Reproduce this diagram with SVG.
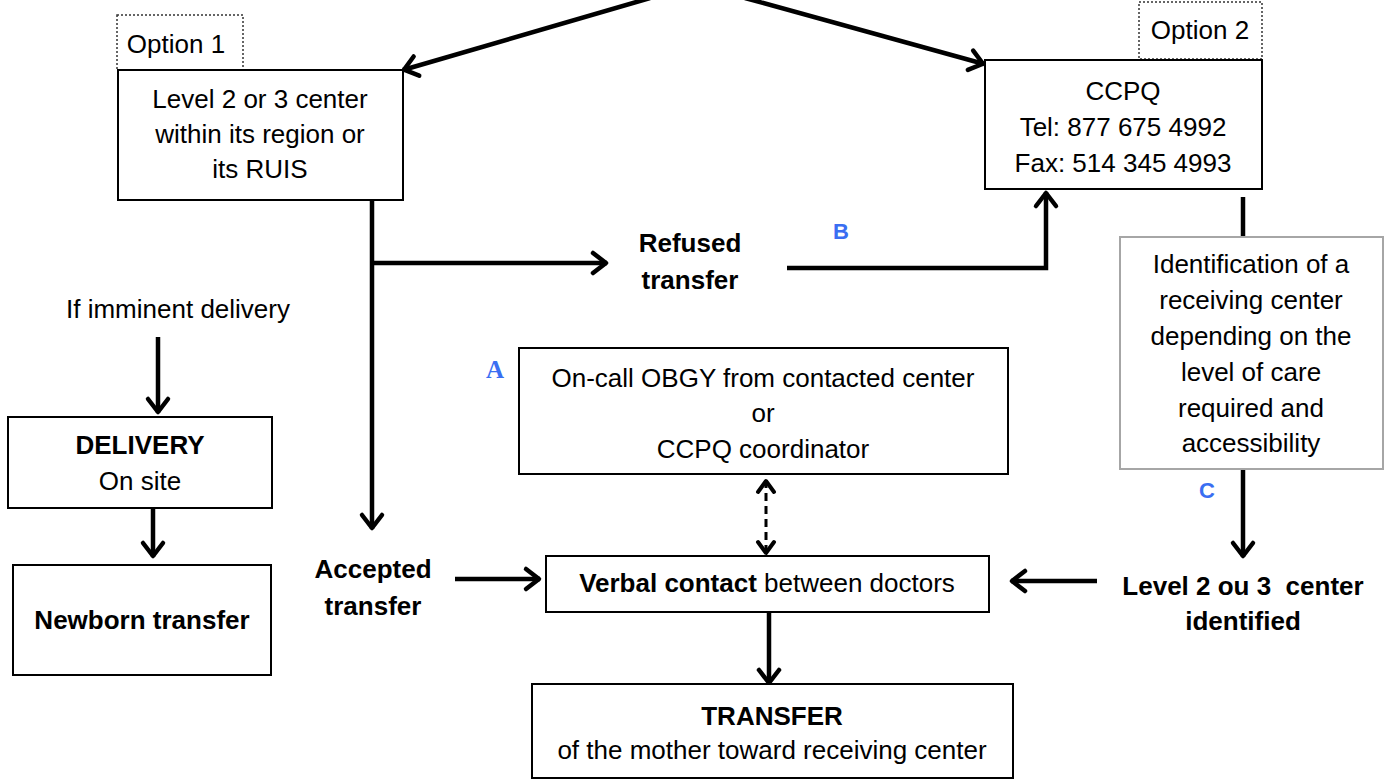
<svg xmlns="http://www.w3.org/2000/svg" width="1390" height="779" viewBox="0 0 1390 779">
<style>
text{font-family:"Liberation Sans",Arial,sans-serif;font-size:26px;fill:#000;text-anchor:middle}
.b{font-weight:bold}
.lbl{font-weight:bold;fill:#3A6EF2;font-size:22px}
.lblA{font-family:"Liberation Serif","Times New Roman",serif;font-weight:bold;fill:#3A6EF2;font-size:25px}
.box{fill:#fff;stroke:#000;stroke-width:2}
.gbox{fill:#fff;stroke:#a6a6a6;stroke-width:2}
.opt{fill:none;stroke:#333;stroke-width:1.5;stroke-dasharray:2,2}
.c{fill:none;stroke:#000;stroke-width:4.5}
.arr{marker-end:url(#ah)}
.dash{fill:none;stroke:#000;stroke-width:3;stroke-dasharray:8,5;marker-end:url(#ah2);marker-start:url(#ah2)}
</style>
<defs>
<marker id="ah" markerUnits="userSpaceOnUse" viewBox="-20 -15 25 30" markerWidth="25" markerHeight="30" refX="0" refY="0" orient="auto" overflow="visible">
<path d="M-14,-10 L-1,0 L-14,10" fill="none" stroke="#000" stroke-width="4.5" stroke-linecap="round" stroke-linejoin="round"/>
</marker>
<marker id="ah2" markerUnits="userSpaceOnUse" viewBox="-20 -15 25 30" markerWidth="25" markerHeight="30" refX="0" refY="0" orient="auto-start-reverse" overflow="visible">
<path d="M-12,-8 L-1,0 L-12,8" fill="none" stroke="#000" stroke-width="4" stroke-linecap="round" stroke-linejoin="round"/>
</marker>
</defs>
<rect width="1390" height="779" fill="#fff"/>

<g id="connectors">
<line class="c arr" x1="650" y1="-2" x2="403" y2="70"/>
<line class="c arr" x1="745" y1="-2" x2="984" y2="64"/>
<polyline class="c arr" points="372,200 372,529"/>
<polyline class="c arr" points="372,263 607,263"/>
<polyline class="c arr" points="787,268 1046,268 1046,192"/>
<line class="c" x1="1243" y1="197" x2="1243" y2="237"/>
<line class="c arr" x1="1243" y1="469" x2="1243" y2="557"/>
<line class="c arr" x1="1097" y1="581" x2="1011" y2="581"/>
<line class="c arr" x1="455" y1="579" x2="540" y2="579"/>
<line class="c arr" x1="769" y1="612" x2="769" y2="684"/>
<line class="dash" x1="766" y1="480" x2="766" y2="554"/>
<line class="c arr" x1="158" y1="337" x2="158" y2="413"/>
<line class="c arr" x1="153" y1="509" x2="153" y2="557"/>
</g>

<g id="option1">
<rect class="opt" x="117" y="15" width="126" height="55"/>
<text x="176" y="53">Option 1</text>
</g>
<g id="level23">
<rect class="box" x="118" y="70" width="285" height="130"/>
<text x="260" y="108">Level 2 or 3 center</text>
<text x="260" y="143">within its region or</text>
<text x="260" y="178">its RUIS</text>
</g>
<g id="option2">
<rect class="opt" x="1139" y="2" width="123" height="57"/>
<text x="1200" y="39">Option 2</text>
</g>
<g id="ccpq">
<rect class="box" x="985" y="60" width="277" height="129"/>
<text x="1123" y="100">CCPQ</text>
<text x="1123" y="136">Tel: 877 675 4992</text>
<text x="1123" y="172">Fax: 514 345 4993</text>
</g>
<g id="refused">
<text class="b" x="690" y="252">Refused</text>
<text class="b" x="690" y="289">transfer</text>
</g>
<g id="labelB"><text class="lbl" x="841" y="239">B</text></g>
<g id="identification">
<rect class="gbox" x="1120" y="237" width="263" height="232"/>
<text x="1251" y="273">Identification of a</text>
<text x="1251" y="309">receiving center</text>
<text x="1251" y="345">depending on the</text>
<text x="1251" y="381">level of care</text>
<text x="1251" y="417">required and</text>
<text x="1251" y="452">accessibility</text>
</g>
<g id="labelC"><text class="lbl" x="1207" y="498">C</text></g>
<g id="identified">
<text class="b" x="1243" y="595" xml:space="preserve">Level 2 ou 3  center</text>
<text class="b" x="1243" y="630">identified</text>
</g>
<g id="imminent">
<text x="178" y="318">If imminent delivery</text>
</g>
<g id="delivery">
<rect class="box" x="8" y="417" width="264" height="91"/>
<text class="b" x="140" y="454">DELIVERY</text>
<text x="140" y="490">On site</text>
</g>
<g id="newborn">
<rect class="box" x="13" y="565" width="258" height="110"/>
<text class="b" x="142" y="629">Newborn transfer</text>
</g>
<g id="labelA"><text class="lblA" x="495" y="378">A</text></g>
<g id="oncall">
<rect class="box" x="519" y="348" width="489" height="126"/>
<text x="763" y="387">On-call OBGY from contacted center</text>
<text x="763" y="422">or</text>
<text x="763" y="458">CCPQ coordinator</text>
</g>
<g id="accepted">
<text class="b" x="373" y="578">Accepted</text>
<text class="b" x="373" y="615">transfer</text>
</g>
<g id="verbal">
<rect class="box" x="546" y="556" width="443" height="56"/>
<text x="767" y="592"><tspan class="b">Verbal contact</tspan> between doctors</text>
</g>
<g id="transfer">
<rect class="box" x="532" y="684" width="481" height="94"/>
<text class="b" x="772" y="725">TRANSFER</text>
<text x="772" y="759">of the mother toward receiving center</text>
</g>
</svg>
